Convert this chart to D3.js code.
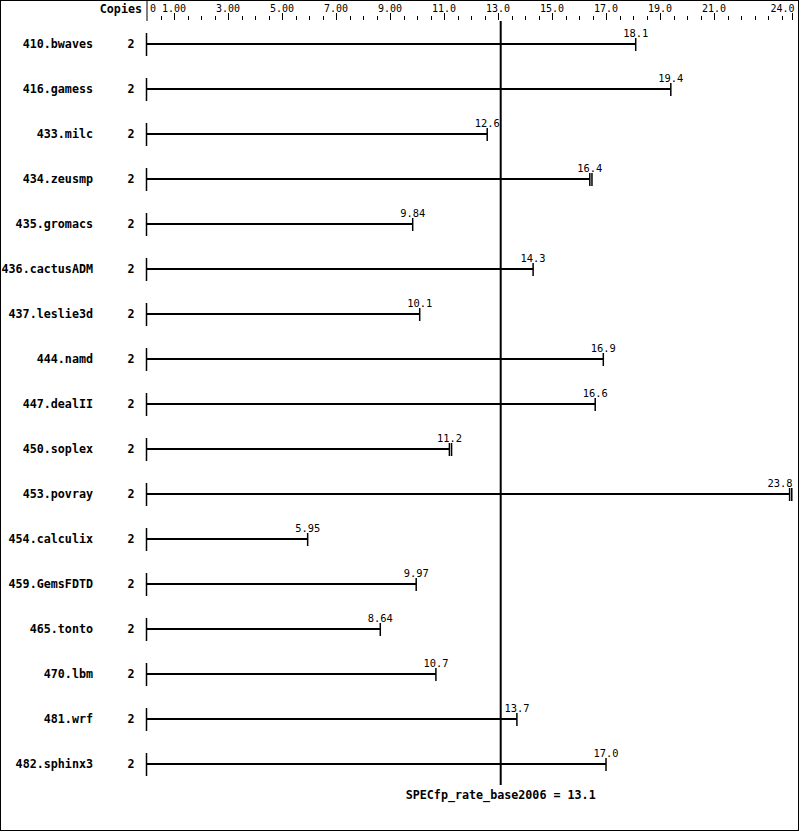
<!DOCTYPE html>
<html>
<head>
<meta charset="utf-8">
<script src="https://cdn.jsdelivr.net/npm/d3@7"></script>
<style>
  html, body { margin: 0; padding: 0; background: #fff; }
  svg { display: block; }
  text { font-family: "DejaVu Sans Mono", "Liberation Mono", monospace; fill: #000; }
</style>
</head>
<body>
<svg id="chart" width="799" height="831"></svg>
<script>
// ---- data ----
const benchmarks = ["410.bwaves","416.gamess","433.milc","434.zeusmp","435.gromacs","436.cactusADM",
  "437.leslie3d","444.namd","447.dealII","450.soplex","453.povray","454.calculix","459.GemsFDTD",
  "465.tonto","470.lbm","481.wrf","482.sphinx3"];
const copies = [2,2,2,2,2,2,2,2,2,2,2,2,2,2,2,2,2];
const ratios = [18.1,19.4,12.6,16.4,9.84,14.3,10.1,16.9,16.6,11.2,23.8,5.95,9.97,8.64,10.7,13.7,17.0];
const ratioLabels = ["18.1","19.4","12.6","16.4","9.84","14.3","10.1","16.9","16.6","11.2","23.8","5.95","9.97","8.64","10.7","13.7","17.0"];
// second run (copy) results where visibly different
const ratios2 = [18.1,19.4,12.6,16.48,9.84,14.3,10.1,16.9,16.6,11.28,23.88,5.95,9.97,8.64,10.7,13.7,17.0];
const tickValues = [1,3,5,7,9,11,13,15,17,19,21,23.87];
const tickLabels = ["1.00","3.00","5.00","7.00","9.00","11.0","13.0","15.0","17.0","19.0","21.0","24.0"];
const axisMax = 23.87;
const meanValue = 13.1;
const meanLabel = "SPECfp_rate_base2006 = 13.1";

// ---- layout ----
const W = 799, H = 831;
const svg = d3.select("#chart");
const x = d3.scaleLinear().domain([0, axisMax]).range([147, 791.5]);
const y = d3.scalePoint().domain(benchmarks).range([44, 764]);

// border
svg.append("rect").attr("x",0.5).attr("y",0.5).attr("width",W-1).attr("height",H-1)
  .attr("fill","none").attr("stroke","#000").attr("stroke-width",1);

// top axis
const ax = svg.append("g");
ax.append("line").attr("x1",x(0)).attr("x2",x(0)).attr("y1",1).attr("y2",21)
  .attr("stroke","#000").attr("stroke-width",1);
ax.append("text").attr("x",x(0)+3).attr("y",12).attr("font-size",10).text("0");
const minor = d3.range(0.5, axisMax, 0.5).filter(v => !tickValues.includes(v));
ax.selectAll("line.minor").data(minor).join("line").attr("class","minor")
  .attr("x1",d=>Math.round(x(d))+0.5).attr("x2",d=>Math.round(x(d))+0.5)
  .attr("y1",16).attr("y2",20).attr("stroke","#000");
ax.selectAll("line.major").data(tickValues).join("line").attr("class","major")
  .attr("x1",d=>Math.round(x(d))+0.5).attr("x2",d=>Math.round(x(d))+0.5)
  .attr("y1",13).attr("y2",20).attr("stroke","#000");
ax.selectAll("text.tl").data(tickValues).join("text").attr("class","tl")
  .attr("x",(d,i)=> i===tickValues.length-1 ? x(d)+3 : x(d))
  .attr("y",12).attr("font-size",10)
  .attr("text-anchor",(d,i)=> i===tickValues.length-1 ? "end" : "middle")
  .text((d,i)=>tickLabels[i]);
svg.append("text").attr("x",142).attr("y",13).attr("font-size",11.7).attr("font-weight","bold")
  .attr("text-anchor","end").text("Copies");

// rows
const rows = svg.selectAll("g.row").data(benchmarks).join("g").attr("class","row");
rows.append("text").attr("x",93).attr("y",d=>y(d)+4).attr("font-size",11.7).attr("font-weight","bold")
  .attr("text-anchor","end").text(d=>d);
rows.append("text").attr("x",131).attr("y",d=>y(d)+4).attr("font-size",11.7).attr("font-weight","bold")
  .attr("text-anchor","middle").text((d,i)=>copies[i]);
rows.append("line").attr("x1",x(0)-0.5).attr("x2",x(0)-0.5)
  .attr("y1",d=>y(d)-11).attr("y2",d=>y(d)+12).attr("stroke","#000").attr("stroke-width",1.5);
rows.append("line").attr("x1",x(0)).attr("x2",(d,i)=>x(ratios[i]))
  .attr("y1",d=>y(d)).attr("y2",d=>y(d)).attr("stroke","#000").attr("stroke-width",2);
rows.append("line").attr("x1",(d,i)=>x(ratios[i])).attr("x2",(d,i)=>x(ratios[i]))
  .attr("y1",d=>y(d)-6).attr("y2",d=>y(d)+7).attr("stroke","#000").attr("stroke-width",1.5);
rows.filter((d,i)=>ratios2[i]!==ratios[i]).append("line")
  .attr("x1",d=>x(ratios2[benchmarks.indexOf(d)])).attr("x2",d=>x(ratios2[benchmarks.indexOf(d)]))
  .attr("y1",d=>y(d)-6).attr("y2",d=>y(d)+7).attr("stroke","#000").attr("stroke-width",1.5);
rows.append("text")
  .attr("x",(d,i)=>Math.min(x(ratios[i]), 780))
  .attr("y",d=>y(d)-7).attr("font-size",10.4).attr("text-anchor","middle")
  .text((d,i)=>ratioLabels[i]);

// mean line
svg.append("line").attr("x1",x(meanValue)).attr("x2",x(meanValue))
  .attr("y1",21).attr("y2",785).attr("stroke","#000").attr("stroke-width",2);
svg.append("text").attr("x",x(meanValue)).attr("y",799).attr("font-size",11.7).attr("font-weight","bold")
  .attr("text-anchor","middle").text(meanLabel);
</script>
</body>
</html>
